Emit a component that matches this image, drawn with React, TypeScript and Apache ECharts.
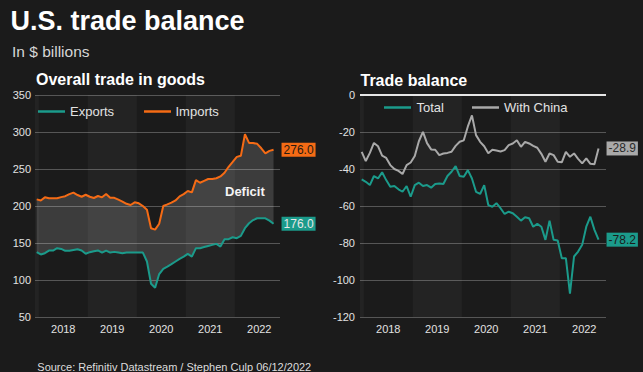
import React, { useEffect, useRef } from "react";
import * as echarts from "echarts";

// Monthly data, Dec 2017 .. Oct 2022 ($ billions)
const firstYear = 2017;
const firstMonth = 12;

const exportsVals = [
  137.6,
  134.5, 136.2, 139.8, 139.8, 143, 142, 139.4, 139.4, 140.5, 141.6, 139.8, 135.5,
  137.6, 138.8, 140, 137.1, 139.8, 137.1, 138, 137.2, 136.2, 137.1, 137.1, 137.1,
  137.1, 137.1, 125, 95, 89.5, 108, 115.1, 118.2, 121.5, 125, 128.5, 131.5,
  135.3, 131.7, 143, 143, 144.5, 146, 147.5, 148.8, 145.2, 155.1, 155.1, 157.8,
  156.5, 159.6, 170, 176.7, 181, 183.4, 183.4, 183.4, 180.2, 176,
];

const importsVals = [
  209,
  207.5, 211.7, 210.5, 210.5, 210.5, 212, 213.2, 216, 218, 214.8, 212.5, 215.2,
  212.5, 210.8, 213.5, 211.7, 216.2, 211.2, 211, 208.5, 206, 203, 201.4, 205,
  203.6, 200, 195, 170, 168, 176, 200, 202.2, 204.5, 207.5, 213, 216,
  220.2, 218.4, 235, 231.4, 234, 236.5, 236.5, 237.5, 240, 245, 253, 259.5,
  266.4, 267.8, 297, 285.3, 285, 284, 278, 271, 274.5, 276,
];

const totalVals = [
  -45.6,
  -46.9, -48.7, -43.8, -45.1, -41.8, -46, -49.6, -49.2, -51, -52.3, -49.2, -55,
  -48.7, -47.4, -49.2, -48.7, -50.1, -48.1, -47.8, -48.1, -43.8, -41.5, -38.4, -43.8,
  -44.2, -40.6, -45.1, -52.3, -53.5, -48.7, -59.5, -60.4, -58.5, -61.2, -64.3, -63.1,
  -63.9, -65.8, -67.9, -66.1, -66.6, -71.2, -69.7, -71.2, -78.3, -67.9, -78.3, -78.7,
  -88.2, -88.2, -107.4, -87.3, -84.6, -81, -71.2, -65.8, -72.9, -78.2,
];

const chinaVals = [
  -30.7,
  -35.7, -31.3, -25.9, -27.7, -32.8, -34, -37.9, -40, -41, -42.7, -37.9, -36.5,
  -33, -25, -19.9, -26, -29.4, -29.6, -32.5, -31.6, -31.3, -30.7, -27.5, -25.3,
  -24.5, -17, -11, -21.7, -25.3, -27.7, -31.5, -29.6, -30, -30.5, -29.8, -27.1,
  -26.2, -24.5, -28, -25.3, -26.2, -27.5, -28.5, -31.8, -36.1, -31.6, -32.5, -36.1,
  -36.4, -30.7, -33.4, -31.6, -34.5, -37, -34.3, -37.2, -37.4, -28.9,
];

const yearLabels = [2018, 2019, 2020, 2021, 2022];
const leftTicks = [50, 350, 50]; // min, max, interval
const rightTicks = [-120, 0, 20];

const BG = "#1b1b1b";
const BAND = "rgba(255,255,255,0.04)";
const TEAL = "#1b9b8b";
const ORANGE = "#f56b15";
const GRAY = "#a9a9a9";
const TXT = "#e2e2e2";
const FONT = '"Liberation Sans", Arial, Helvetica, sans-serif';

// x coordinate of month i (mid-month, in fractional years)
const tOf = (i: number) => {
  const m = firstMonth - 1 + i;
  return firstYear + Math.floor(m / 12) + ((m % 12) + 0.5) / 12;
};
const pts = (vals: number[]) => vals.map((v, i) => [tOf(i), v]);

const X_MIN = 2017.9236;
const X_MAX_L = X_MIN + 245 / 49;
const X_MAX_R = X_MIN + 246 / 49;

const bands = [
  [X_MIN, 2018],
  [2019, 2020],
  [2021, 2022],
].map(([a, b]) => [{ xAxis: a }, { xAxis: b }]);

const xAxisBase = (grid: number, max: number) => ({
  type: "value",
  gridIndex: grid,
  min: X_MIN,
  max,
  axisLine: { show: false },
  axisTick: { show: false },
  splitLine: { show: false },
  axisLabel: {
    customValues: yearLabels.map((y) => y + 0.5),
    formatter: (v: number) => String(Math.floor(v)),
    color: TXT,
    fontSize: 11,
    fontFamily: FONT,
    margin: 6,
  },
});

const yAxisBase = (grid: number, t: number[], margin: number) => ({
  type: "value",
  gridIndex: grid,
  min: t[0],
  max: t[1],
  interval: t[2],
  axisLine: { show: false },
  axisTick: { show: false },
  splitLine: { show: true, lineStyle: { color: "#565656", width: 1 } },
  axisLabel: { color: TXT, fontSize: 11, fontFamily: FONT, margin },
});

const endLabel = (bg: string, fg: string) => ({
  show: true,
  formatter: (p: any) => Number(p.value[1]).toFixed(1),
  backgroundColor: bg,
  color: fg,
  fontSize: 12,
  fontFamily: FONT,
  padding: [1, 2, 0, 2],
  lineHeight: 13,
  distance: 8,
});

const lineSeries = (
  name: string,
  vals: number[],
  color: string,
  grid: number,
  extra: any = {}
) => ({
  name,
  type: "line",
  xAxisIndex: grid,
  yAxisIndex: grid,
  data: pts(vals),
  symbol: "none",
  showSymbol: false,
  lineStyle: { color, width: 2 },
  itemStyle: { color },
  z: 4,
  silent: true,
  ...extra,
});

const txt = (text: string, x: number, y: number, size: number, bold: boolean, fill = TXT) => ({
  type: "text",
  x,
  y,
  silent: true,
  style: {
    text,
    fill,
    fontSize: size,
    fontWeight: bold ? "bold" : "normal",
    fontFamily: FONT,
    verticalAlign: "middle",
    align: "left",
  },
});

const legLine = (x1: number, x2: number, y: number, color: string) => ({
  type: "line",
  silent: true,
  shape: { x1, y1: y, x2, y2: y },
  style: { stroke: color, lineWidth: 2.5 },
});

export default function App() {
  const ref = useRef<HTMLDivElement>(null);
  useEffect(() => {
    if (!ref.current) return;
    const chart = echarts.init(ref.current, null, { renderer: "svg" });
    chart.setOption({
      animation: false,
      backgroundColor: BG,
      textStyle: { fontFamily: FONT },
      grid: [
        { left: 35, top: 95, width: 245, height: 222 },
        { left: 360, top: 95, width: 246, height: 222 },
      ],
      xAxis: [xAxisBase(0, X_MAX_L), xAxisBase(1, X_MAX_R)],
      yAxis: [yAxisBase(0, leftTicks, 4), yAxisBase(1, rightTicks, 5)],
      series: [
        {
          name: "Deficit",
          type: "custom",
          xAxisIndex: 0,
          yAxisIndex: 0,
          data: [[tOf(0), importsVals[0]]],
          silent: true,
          z: 2,
          renderItem: (_params: any, api: any) => {
            const top = importsVals.map((v, i) => api.coord([tOf(i), v]));
            const bot = exportsVals.map((v, i) => api.coord([tOf(i), v])).reverse();
            return {
              type: "polygon",
              shape: { points: top.concat(bot) },
              style: { fill: "rgba(255,255,255,0.15)", stroke: "none" },
            };
          },
        },
        lineSeries("Exports", exportsVals, TEAL, 0, {
          endLabel: endLabel(TEAL, "#e8e8e8"),
          markArea: { silent: true, itemStyle: { color: BAND }, data: bands },
        }),
        lineSeries("Imports", importsVals, ORANGE, 0, {
          endLabel: endLabel(ORANGE, "#2a1a10"),
        }),
        lineSeries("Total", totalVals, TEAL, 1, {
          endLabel: endLabel(TEAL, "#1c1c1c"),
          markArea: { silent: true, itemStyle: { color: BAND }, data: bands },
          markLine: {
            silent: true,
            symbol: ["none", "none"],
            label: { show: false },
            lineStyle: { color: "#e6e6e6", width: 2, type: "solid" },
            data: [{ yAxis: 0 }],
          },
        }),
        lineSeries("With China", chinaVals, GRAY, 1, {
          endLabel: endLabel(GRAY, "#2a2a2a"),
        }),
      ],
      graphic: [
        txt("U.S. trade balance", 10.5, 21, 27, true, "#ffffff"),
        txt("In $ billions", 12, 51.5, 15.5, false, "#d6d6d6"),
        txt("Overall trade in goods", 36, 79, 16, true, "#ffffff"),
        txt("Trade balance", 360.5, 80, 16, true, "#ffffff"),
        legLine(38, 65, 111.5, TEAL),
        txt("Exports", 70, 111.5, 13, false),
        legLine(144, 171, 111.5, ORANGE),
        txt("Imports", 175.5, 111.5, 13, false),
        legLine(384, 411, 107.5, TEAL),
        txt("Total", 416.5, 107.5, 13, false),
        legLine(472, 499, 107.5, GRAY),
        txt("With China", 504, 107.5, 13, false),
        txt("Deficit", 225, 191, 13, true, "#f2f2f2"),
        txt("Source: Refinitiv Datastream / Stephen Culp 06/12/2022", 37.3, 366.5, 11, false, "#dddddd"),
      ],
    });
    return () => chart.dispose();
  }, []);
  return (
    <div
      ref={ref}
      style={{ position: "fixed", left: 0, top: 0, width: 643, height: 372, background: BG }}
    />
  );
}
